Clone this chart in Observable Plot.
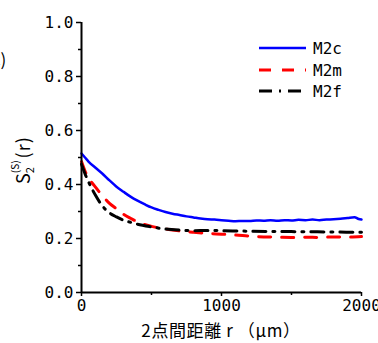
<!DOCTYPE html>
<html>
<head>
<meta charset="utf-8">
<script src="https://cdn.jsdelivr.net/npm/d3@7"></script>
<script src="https://cdn.jsdelivr.net/npm/@observablehq/plot@0.6"></script>
<style>
  html, body { margin: 0; padding: 0; background: #fff; overflow: hidden; }
  #wrap { position: relative; width: 378px; height: 343px; overflow: hidden; }
  #panel { position: absolute; left: -14px; top: 46px; font: 17px "Noto Sans CJK JP", sans-serif; color: #000; z-index: 2; }
</style>
</head>
<body>
<div id="wrap"><div id="panel">(c)</div></div>
<script>
// ---- data ----
const seriesNames = ["M2c", "M2m", "M2f"];
const seriesColors = ["#0000ff", "#ff0000", "#000000"];
const seriesDash = ["none", "12,11", "13,7,2,7"];

const rM2c = [0, 25, 50, 100, 150, 200, 250, 300, 350, 400, 450, 500, 550, 600, 650, 700, 750, 800, 850, 900, 950, 1000, 1050, 1100, 1150, 1200, 1250, 1300, 1350, 1400, 1450, 1500, 1550, 1600, 1650, 1700, 1750, 1800, 1850, 1900, 1950, 1980, 2000];
const sM2c = [0.515, 0.50, 0.485, 0.462, 0.44, 0.415, 0.392, 0.373, 0.355, 0.34, 0.327, 0.315, 0.306, 0.298, 0.292, 0.287, 0.282, 0.278, 0.274, 0.271, 0.270, 0.268, 0.266, 0.264, 0.265, 0.265, 0.267, 0.266, 0.268, 0.266, 0.268, 0.267, 0.269, 0.268, 0.270, 0.268, 0.270, 0.271, 0.273, 0.276, 0.279, 0.272, 0.270];

const rM2m = [0, 25, 50, 100, 150, 200, 250, 300, 350, 400, 450, 500, 600, 700, 800, 900, 1000, 1100, 1200, 1300, 1400, 1500, 1600, 1700, 1800, 1900, 2000];
const sM2m = [0.485, 0.45, 0.425, 0.39, 0.358, 0.33, 0.31, 0.29, 0.275, 0.262, 0.252, 0.245, 0.235, 0.228, 0.223, 0.219, 0.216, 0.213, 0.209, 0.206, 0.205, 0.204, 0.205, 0.204, 0.206, 0.205, 0.207];

const rM2f = [0, 25, 50, 100, 150, 200, 250, 300, 350, 400, 500, 600, 700, 800, 900, 1000, 1200, 1400, 1600, 1800, 2000];
const sM2f = [0.475, 0.44, 0.41, 0.36, 0.32, 0.295, 0.28, 0.268, 0.26, 0.253, 0.243, 0.235, 0.231, 0.229, 0.23, 0.229, 0.227, 0.226, 0.225, 0.224, 0.223];

const xTicks = [0, 1000, 2000];
const xMinorTicks = [500, 1500];
const yTicks = [0, 0.2, 0.4, 0.6, 0.8, 1.0];
const yMinorTicks = [0.1, 0.3, 0.5, 0.7, 0.9];
const xLabel = "2点間距離 r （μm）";

// ---- build ----
const toRows = (rs, ss) => rs.map((r, i) => ({r, s: ss[i]}));
const seriesData = [toRows(rM2c, sM2c), toRows(rM2m, sM2m), toRows(rM2f, sM2f)];

const chart = Plot.plot({
  width: 378,
  height: 343,
  marginLeft: 81,
  marginRight: 17,
  marginTop: 22,
  marginBottom: 51,
  x: {domain: [0, 2000]},
  y: {domain: [0, 1]},
  style: {fontFamily: "'DejaVu Sans Mono', monospace", fontSize: "16px", color: "#000", background: "#fff", overflow: "visible"},
  marks: [
    Plot.axisY({ticks: yTicks, tickFormat: d => d.toFixed(1), tickSize: 5, tickPadding: 3, label: null, strokeWidth: 1.5}),
    Plot.axisY({ticks: yMinorTicks, tickSize: 3, text: null, label: null, strokeWidth: 1.5}),
    Plot.axisX({ticks: xTicks, tickFormat: d => String(d), tickSize: 4, tickPadding: 3, label: null, strokeWidth: 1.5}),
    Plot.axisX({ticks: xMinorTicks, tickSize: 3, text: null, label: null, strokeWidth: 1.5}),
    ...seriesData.map((data, i) => Plot.line(data, {
      x: "r", y: "s",
      stroke: seriesColors[i],
      strokeWidth: i === 0 ? 2.5 : 3,
      strokeDasharray: seriesDash[i] === "none" ? null : seriesDash[i],
      curve: "monotone-x"
    })),
    Plot.ruleX([0], {y1: 0, y2: 1, strokeWidth: 2}),
    Plot.ruleY([0], {x1: 0, x2: 2000, strokeWidth: 2})
  ]
});

const svg = d3.select(chart);

// y-axis label  S_2^(S)(r)
const yl = svg.append("text")
  .attr("transform", "translate(30,184) rotate(-90)")
  .attr("text-anchor", "start")
  .attr("font-family", "'Noto Sans CJK JP', sans-serif")
  .attr("font-size", 18)
  .attr("fill", "#000");
yl.append("tspan").text("S");
yl.append("tspan").attr("font-size", 11).attr("dy", 4).text("2");
yl.append("tspan").attr("font-size", 10).attr("dx", -6).attr("dy", -15).text("(S)");
yl.append("tspan").attr("dy", 11).attr("dx", 2).attr("letter-spacing", 1).text("(r)");

// x-axis label
svg.append("text")
  .attr("x", 221).attr("y", 337)
  .attr("text-anchor", "middle")
  .attr("font-family", "'Noto Sans CJK JP', sans-serif")
  .attr("font-size", 17)
  .attr("letter-spacing", 0.6)
  .attr("fill", "#000")
  .text(xLabel);

// legend
const legendY = [48, 70, 91];
const lg = svg.append("g");
seriesNames.forEach((name, i) => {
  lg.append("line")
    .attr("x1", 259).attr("x2", 306)
    .attr("y1", legendY[i]).attr("y2", legendY[i])
    .attr("stroke", seriesColors[i])
    .attr("stroke-width", i === 0 ? 2.5 : 3)
    .attr("stroke-dasharray", seriesDash[i]);
  lg.append("text")
    .attr("x", 313).attr("y", legendY[i])
    .attr("dy", "0.35em")
    .attr("text-anchor", "start")
    .attr("font-family", "'DejaVu Sans Mono', monospace")
    .attr("font-size", 16)
    .attr("fill", "#000")
    .text(name);
});

document.getElementById("wrap").appendChild(chart);
chart.style.position = "absolute";
chart.style.left = "0";
chart.style.top = "0";
</script>
</body>
</html>
